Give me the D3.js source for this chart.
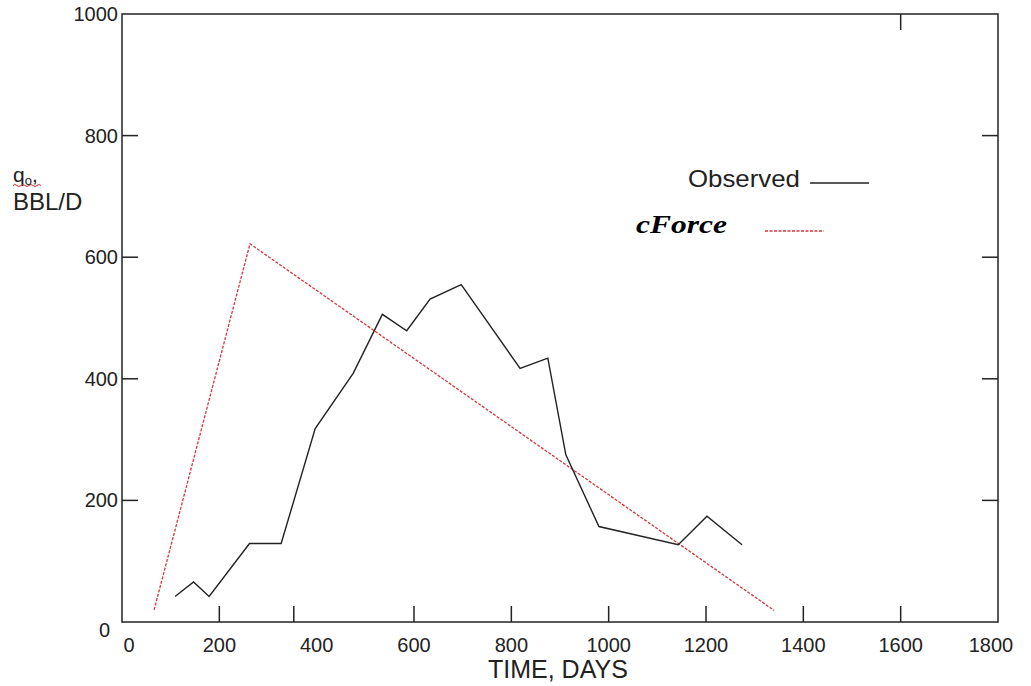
<!DOCTYPE html>
<html><head><meta charset="utf-8">
<script src="https://cdn.jsdelivr.net/npm/d3@7"></script>
<style>body{margin:0;background:#fff} svg{display:block}</style>
</head><body><svg id="c" width="1031" height="686"></svg>
<script>
const observedDays = [109,147,179,262,327,397,475,535,585,633,697,818,875,912,980,1143,1202,1274];
const observedRate = [42,66,42,129,129,318,409,506,479,531,555,417,434,275,157,127,174,127];
const cforceDays = [66,263,1340];
const cforceRate = [20,622,19];
const xTickLabels = [0,200,400,600,800,1000,1200,1400,1600,1800];
const yTickLabels = [0,200,400,600,800,1000];
const xTickMarks = [200,353,600,800,1000,1200,1400,1600];
const xTopTickMarks = [1600];
const yTickMarks = [200,400,600,800];
const seriesNames = ["Observed","cForce"];

const svg = d3.select("#c");
svg.append("rect").attr("width",1031).attr("height",686).attr("fill","#fff");
const x = d3.scaleLinear().domain([0,1800]).range([122,998]);
const y = d3.scaleLinear().domain([0,1000]).range([622,14]);
const ink = "#222";

// frame
svg.append("rect").attr("x",x(0)).attr("y",y(1000)).attr("width",x(1800)-x(0)).attr("height",y(0)-y(1000))
  .attr("fill","none").attr("stroke",ink).attr("stroke-width",1.5);
const T = 16;
svg.append("g").selectAll("line").data(xTickMarks).join("line")
  .attr("x1",d=>x(d)).attr("x2",d=>x(d)).attr("y1",y(0)).attr("y2",y(0)-T).attr("stroke",ink).attr("stroke-width",1.5);
svg.append("g").selectAll("line").data(xTopTickMarks).join("line")
  .attr("x1",d=>x(d)).attr("x2",d=>x(d)).attr("y1",y(1000)).attr("y2",y(1000)+T).attr("stroke",ink).attr("stroke-width",1.5);
svg.append("g").selectAll("line").data(yTickMarks).join("line")
  .attr("x1",x(0)).attr("x2",x(0)+T).attr("y1",d=>y(d)).attr("y2",d=>y(d)).attr("stroke",ink).attr("stroke-width",1.5);
svg.append("g").selectAll("line").data(yTickMarks).join("line")
  .attr("x1",x(1800)-T).attr("x2",x(1800)).attr("y1",d=>y(d)).attr("y2",d=>y(d)).attr("stroke",ink).attr("stroke-width",1.5);

// tick labels
const lab = "'Liberation Sans', Arial, sans-serif";
svg.append("g").selectAll("text").data(xTickLabels).join("text")
  .attr("x",d=>x(d) + (d===0?7:(d===1800?-7:0))).attr("y",652).attr("text-anchor","middle")
  .attr("font-family",lab).attr("font-size",20).attr("fill",ink).text(d=>d);
svg.append("g").selectAll("text").data(yTickLabels).join("text")
  .attr("x",d=>d===0?110:118).attr("y",d=>y(d)+(d===0?15:7)).attr("text-anchor","end")
  .attr("font-family",lab).attr("font-size",20).attr("fill",ink).text(d=>d);

// axis titles
svg.append("text").attr("x",488).attr("y",678).attr("font-family",lab).attr("font-size",25).attr("fill",ink).text("TIME, DAYS");
const yt = svg.append("text").attr("x",13).attr("y",182).attr("font-family",lab).attr("font-size",21).attr("fill",ink);
yt.append("tspan").text("q");
yt.append("tspan").attr("font-size",13).attr("dy",3).text("o");
yt.append("tspan").attr("dy",-3).text(",");
svg.append("path").attr("d","M13,185.5 q2,-2 4,0 t4,0 t4,0 t4,0 t4,0 t4,0 t4,0")
  .attr("fill","none").attr("stroke","#d03030").attr("stroke-width",1);
svg.append("text").attr("x",13).attr("y",210).attr("font-family",lab).attr("font-size",24).attr("fill",ink).text("BBL/D");

// series
const line = d3.line().x(d=>x(d[0])).y(d=>y(d[1]));
const obs = observedDays.map((d,i)=>[d,observedRate[i]]);
const cf = cforceDays.map((d,i)=>[d,cforceRate[i]]);
svg.append("path").datum(cf).attr("d",line).attr("fill","none").attr("stroke","#d9343a")
  .attr("stroke-width",1.3).attr("stroke-dasharray","3,1.5");
svg.append("path").datum(obs).attr("d",line).attr("fill","none").attr("stroke",ink).attr("stroke-width",1.4);

// legend
svg.append("text").attr("x",800).attr("y",187).attr("text-anchor","end").attr("font-family",lab)
  .attr("font-size",24).attr("textLength",112).attr("lengthAdjust","spacingAndGlyphs").attr("fill",ink).text(seriesNames[0]);
svg.append("line").attr("x1",810).attr("x2",869).attr("y1",183).attr("y2",183).attr("stroke",ink).attr("stroke-width",1.4);
svg.append("text").attr("x",636).attr("y",233).attr("font-family","'Liberation Serif','Times New Roman',serif")
  .attr("font-weight","bold").attr("font-style","italic").attr("font-size",26)
  .attr("textLength",91).attr("lengthAdjust","spacingAndGlyphs").attr("fill","#000").text(seriesNames[1]);
svg.append("line").attr("x1",765).attr("x2",824).attr("y1",231).attr("y2",231).attr("stroke","#d9343a")
  .attr("stroke-width",1.3).attr("stroke-dasharray","3,1.5");
</script></body></html>
